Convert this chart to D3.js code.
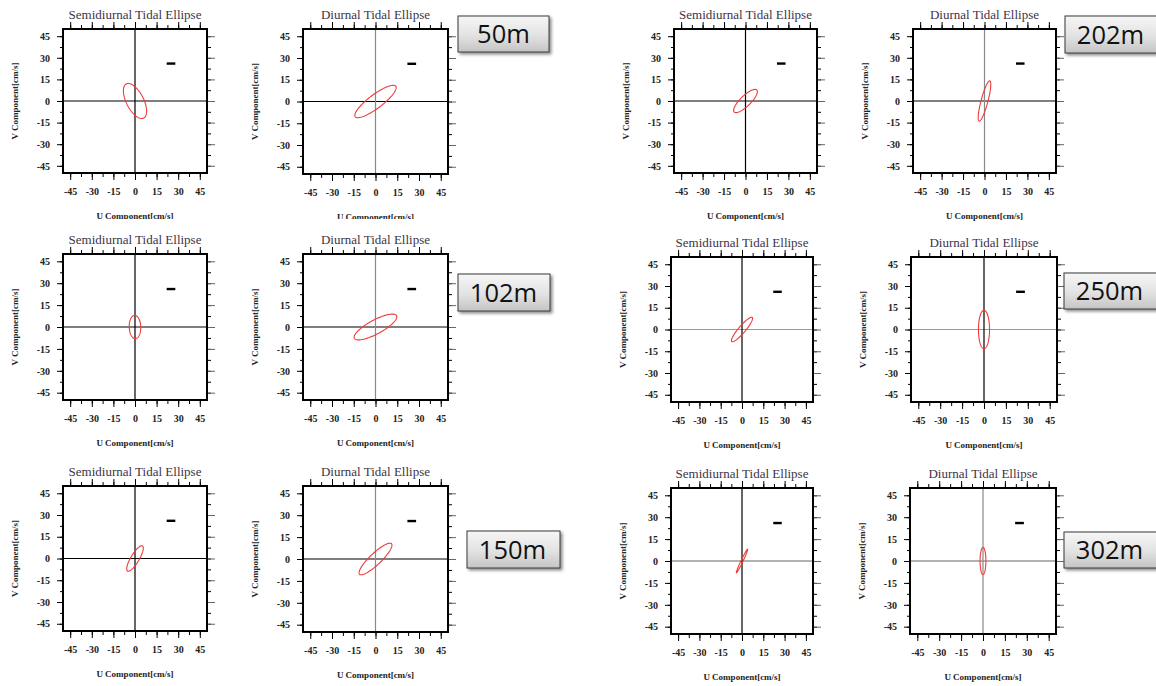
<!DOCTYPE html>
<html><head><meta charset="utf-8">
<script src="https://cdn.jsdelivr.net/npm/d3@7"></script>
<style>body{margin:0;background:#fff}svg{display:block}</style>
</head><body>
<svg id="c" width="1156" height="686"></svg>
<script>
// ---------- data ----------
const depths = ["50m", "102m", "150m", "202m", "250m", "302m"];
const axisDomain = [-50, 50];
const tickValues = [-45, -30, -15, 0, 15, 30, 45];
const minorTickValues = [-45, -37.5, -30, -22.5, -15, -7.5, 0, 7.5, 15, 22.5, 30, 37.5, 45];
const panelTitles = ["Semidiurnal Tidal Ellipse", "Diurnal Tidal Ellipse"];
const xAxisTitle = "U Component[cm/s]";
const yAxisTitle = "V Component[cm/s]";
// semidiurnal ellipse parameters per depth (cm/s, degrees)
const semiMajor = [13.3, 8.0, 10.1, 11.0, 11.0, 9.0];
const semiMinor = [6.0, 4.0, 2.9, 3.6, 2.4, 0.7];
const semiIncl = [-63, 92, 59, 44, 49, 64];
// diurnal ellipse parameters per depth
const diurMajor = [17.5, 16.5, 15.2, 14.5, 13.3, 9.3];
const diurMinor = [4.7, 4.8, 3.9, 2.4, 3.8, 2.0];
const diurIncl = [37, 28, 43.5, 75, 90, 90];
// reference scale bar
const scaleBarU = [22, 28];
const scaleBarV = 26;

// ---------- layout ----------
const panelBoxes = [
  // [semi box, diurnal box] per depth: L, R, T, B
  [[63, 207, 29, 173], [303, 448, 29, 174]],
  [[63, 207, 254, 400], [303, 448, 254, 400]],
  [[63, 207, 486, 631], [303, 448, 486, 632]],
  [[674, 817, 29, 173], [913, 1056, 29, 173]],
  [[671, 813, 257, 402], [911, 1057, 257, 402]],
  [[671, 813, 488, 634], [910, 1056, 488, 634]]
];
const zeroColors = [ // [h, v] per panel
  [["#000", "#000"], ["#000", "#888"]],
  [["#000", "#000"], ["#000", "#888"]],
  [["#000", "#000"], ["#000", "#888"]],
  [["#000", "#000"], ["#000", "#888"]],
  [["#999", "#000"], ["#999", "#000"]],
  [["#666", "#000"], ["#666", "#888"]]
];
const depthBoxes = [
  [458, 16, 91, 36], [458, 274, 92, 37], [467, 531, 93, 37],
  [1065, 16, 96, 37], [1064, 273, 96, 36], [1064, 532, 96, 36]
];

const svg = d3.select("#c");
const defs = svg.append("defs");
const grad = defs.append("linearGradient").attr("id", "bg").attr("x1", 0).attr("y1", 0).attr("x2", 0).attr("y2", 1);
grad.append("stop").attr("offset", "0%").attr("stop-color", "#f6f6f6");
grad.append("stop").attr("offset", "55%").attr("stop-color", "#e2e2e2");
grad.append("stop").attr("offset", "100%").attr("stop-color", "#c4c4c4");
const f = defs.append("filter").attr("id", "sh").attr("x", "-20%").attr("y", "-20%").attr("width", "150%").attr("height", "160%");
f.append("feDropShadow").attr("dx", 2).attr("dy", 2).attr("stdDeviation", 1.5).attr("flood-color", "#000").attr("flood-opacity", 0.45);
defs.append("clipPath").attr("id", "cut1").append("rect").attr("x", 0).attr("y", 0).attr("width", 600).attr("height", 219);

const serif = "'Liberation Serif','Times New Roman',serif";

function ellipsePoints(a, b, incDeg) {
  const th = incDeg * Math.PI / 180;
  return d3.range(0, 361, 3).map(t => {
    const r = t * Math.PI / 180;
    return [a * Math.cos(r) * Math.cos(th) - b * Math.sin(r) * Math.sin(th),
            a * Math.cos(r) * Math.sin(th) + b * Math.sin(r) * Math.cos(th)];
  });
}

function drawPanel(box, title, a, b, inc, zc, clip) {
  const [L, R, T, B] = box;
  const g = svg.append("g");
  if (clip) g.attr("clip-path", "url(#cut1)");
  const x = d3.scaleLinear().domain(axisDomain).range([L, R]);
  const y = d3.scaleLinear().domain(axisDomain).range([B, T]);

  // title
  g.append("text").attr("x", (L + R) / 2).attr("y", T - 10).attr("text-anchor", "middle")
    .attr("font-family", serif).attr("font-size", 13).attr("fill", "#3b3447").text(title);

  const styleAxis = sel => {
    sel.select(".domain").remove();
    sel.selectAll("line").attr("stroke", "#000").attr("stroke-width", 1);
    sel.selectAll("text").attr("font-family", serif).attr("font-weight", "bold")
      .attr("font-size", 10).attr("fill", "#222");
  };
  // minor ticks
  g.append("g").attr("transform", `translate(0,${T})`).call(d3.axisTop(x).tickValues(minorTickValues).tickSize(4).tickFormat("")).call(styleAxis);
  g.append("g").attr("transform", `translate(0,${B})`).call(d3.axisBottom(x).tickValues(minorTickValues).tickSize(4).tickFormat("")).call(styleAxis);
  g.append("g").attr("transform", `translate(${L},0)`).call(d3.axisLeft(y).tickValues(minorTickValues).tickSize(3).tickFormat("")).call(styleAxis);
  g.append("g").attr("transform", `translate(${R},0)`).call(d3.axisRight(y).tickValues(minorTickValues).tickSize(4).tickFormat("")).call(styleAxis);
  // major ticks
  g.append("g").attr("transform", `translate(0,${T})`).call(d3.axisTop(x).tickValues(tickValues).tickSize(7).tickFormat("")).call(styleAxis);
  g.append("g").attr("transform", `translate(0,${B})`).call(d3.axisBottom(x).tickValues(tickValues).tickSize(7).tickPadding(7.5).tickFormat(d => String(d))).call(styleAxis);
  g.append("g").attr("transform", `translate(${L},0)`).call(d3.axisLeft(y).tickValues(tickValues).tickSize(6).tickPadding(7).tickFormat(d => String(d))).call(styleAxis);
  g.append("g").attr("transform", `translate(${R},0)`).call(d3.axisRight(y).tickValues(tickValues).tickSize(8).tickFormat("")).call(styleAxis)
    .selectAll("line").attr("stroke", "#666");

  // axis titles
  g.append("text").attr("x", x(0)).attr("y", B + 46).attr("text-anchor", "middle")
    .attr("font-family", serif).attr("font-weight", "bold").attr("font-size", 9).attr("fill", "#222").text(xAxisTitle);
  g.append("text").attr("transform", `translate(${L - 45},${y(0)}) rotate(-90)`).attr("text-anchor", "middle")
    .attr("font-family", serif).attr("font-weight", "bold").attr("font-size", 9).attr("fill", "#222").text(yAxisTitle);

  // zero lines
  g.append("line").attr("x1", x(axisDomain[0])).attr("x2", x(axisDomain[1])).attr("y1", y(0)).attr("y2", y(0))
    .attr("stroke", zc[0]).attr("stroke-width", 1.2);
  g.append("line").attr("x1", x(0)).attr("x2", x(0)).attr("y1", y(axisDomain[0])).attr("y2", y(axisDomain[1]))
    .attr("stroke", zc[1]).attr("stroke-width", 1.2);

  // ellipse
  const line = d3.line().x(d => x(d[0])).y(d => y(d[1])).curve(d3.curveLinearClosed);
  g.append("path").attr("d", line(ellipsePoints(a, b, inc))).attr("fill", "none")
    .attr("stroke", "#f03a3a").attr("stroke-width", 1.1);

  // scale bar
  g.append("line").attr("x1", x(scaleBarU[0])).attr("x2", x(scaleBarU[1])).attr("y1", y(scaleBarV)).attr("y2", y(scaleBarV))
    .attr("stroke", "#000").attr("stroke-width", 2.4);

  // box
  g.append("rect").attr("x", L).attr("y", T).attr("width", R - L).attr("height", B - T)
    .attr("fill", "none").attr("stroke", "#000").attr("stroke-width", 2);
}

depths.forEach((d, i) => {
  drawPanel(panelBoxes[i][0], panelTitles[0], semiMajor[i], semiMinor[i], semiIncl[i], zeroColors[i][0], i === 0);
  drawPanel(panelBoxes[i][1], panelTitles[1], diurMajor[i], diurMinor[i], diurIncl[i], zeroColors[i][1], i === 0);
  const [bx, by, bw, bh] = depthBoxes[i];
  const lg = svg.append("g");
  lg.append("rect").attr("x", bx).attr("y", by).attr("width", bw).attr("height", bh)
    .attr("fill", "url(#bg)").attr("stroke", "#3a3a3a").attr("stroke-width", 1).attr("filter", "url(#sh)");
  lg.append("text").attr("x", bx + 45.5).attr("y", by + bh / 2 + 9).attr("text-anchor", "middle")
    .attr("font-family", "'Open Sans','Noto Sans',sans-serif").attr("font-size", 25.5).attr("fill", "#111").text(d);
});
</script>
</body></html>
